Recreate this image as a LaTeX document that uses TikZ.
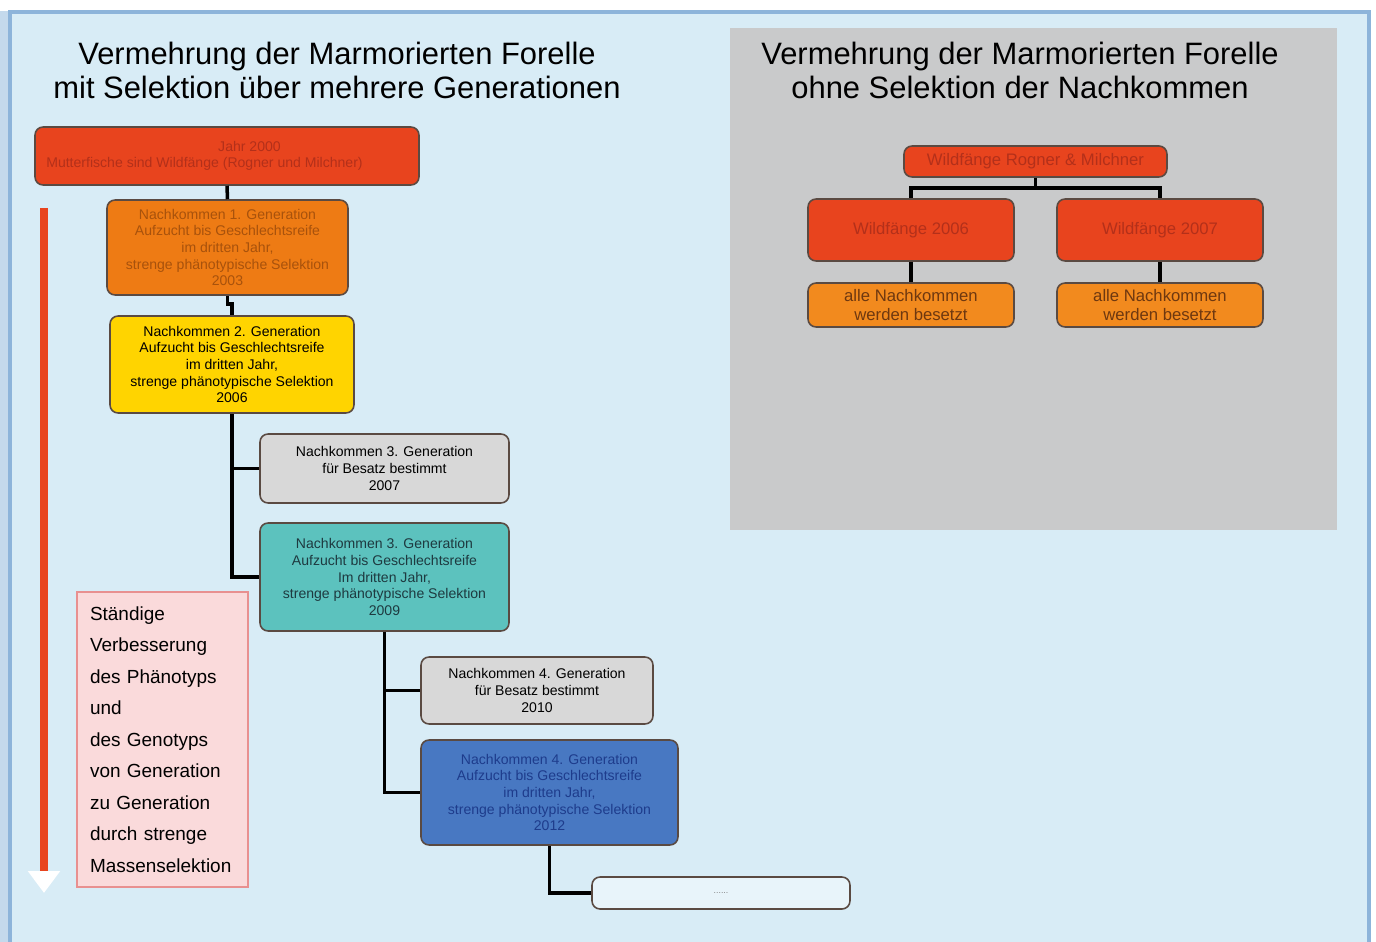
\documentclass[tikz,border=0pt]{standalone}
\usepackage{fontspec}
\setmainfont{Liberation Sans}
\usetikzlibrary{arrows.meta}
\definecolor{bgblue}{HTML}{D8ECF6}
\definecolor{frameblue}{HTML}{8DB4DA}
\definecolor{leftstrip}{HTML}{C4D9EC}
\definecolor{panelgray}{HTML}{C9CACB}
\definecolor{boxline}{HTML}{5A4A42}
\definecolor{redfill}{HTML}{E8441E}
\definecolor{redtext}{HTML}{B3301A}
\definecolor{orangefill}{HTML}{EE7B14}
\definecolor{orangetext}{HTML}{A8520C}
\definecolor{allefill}{HTML}{F28A1E}
\definecolor{alletext}{HTML}{6E3810}
\definecolor{yellowfill}{HTML}{FFD400}
\definecolor{grayfill}{HTML}{D8D8D8}
\definecolor{tealfill}{HTML}{5CC2BE}
\definecolor{tealtext}{HTML}{1E3A40}
\definecolor{bluefill}{HTML}{4878C2}
\definecolor{bluetext}{HTML}{1E3C8C}
\definecolor{pinkfill}{HTML}{FADADB}
\definecolor{pinkline}{HTML}{E89090}
\definecolor{arrowred}{HTML}{E8441E}
\tikzset{
  genbox/.style={draw=boxline, line width=0.9pt, rounded corners=0.16cm, align=center,
    inner sep=1pt, font=\fontsize{8}{9.5}\selectfont},
  wildbox/.style={genbox, font=\fontsize{9.5}{11}\selectfont},
  link/.style={line width=2pt, black},
  headline/.style={align=center, font=\fontsize{17.6}{19.3}\selectfont}
}
\begin{document}
\begin{tikzpicture}[x=0.02cm, y=-0.02cm]
\useasboundingbox (0,0) rectangle (1376,942);
\fill[white] (0,0) rectangle (1376,942);
\fill[leftstrip] (0,11) rectangle (9,942);
\fill[bgblue, draw=frameblue, line width=2.5pt] (10,12) rectangle (1369,950);
\fill[panelgray] (730,28) rectangle (1337,530);

\node[headline] (lefttitle) at (337,70) {Vermehrung der Marmorierten Forelle\\mit Selektion über mehrere Generationen};
\node[headline] (righttitle) at (1020,70) {Vermehrung der Marmorierten Forelle\\ohne Selektion der Nachkommen};

% Selektion ueber mehrere Generationen
\node[genbox, fill=redfill, text=redtext, minimum width=7.68cm, minimum height=1.16cm] (jahr) at (227,156)
  {\hspace*{0.9cm}Jahr 2000\\Mutterfische sind Wildfänge (Rogner und Milchner)\hspace*{0.9cm}};
\node[genbox, fill=orangefill, text=orangetext, minimum width=4.82cm, minimum height=1.9cm] (gen1) at (227.5,247.5)
  {Nachkommen 1. Generation\\Aufzucht bis Geschlechtsreife\\im dritten Jahr,\\strenge phänotypische Selektion\\2003};
\node[genbox, fill=yellowfill, text=black, minimum width=4.88cm, minimum height=1.94cm] (gen2) at (232,364.5)
  {Nachkommen 2. Generation\\Aufzucht bis Geschlechtsreife\\im dritten Jahr,\\strenge phänotypische Selektion\\2006};
\node[genbox, fill=grayfill, text=black, minimum width=4.98cm, minimum height=1.38cm] (gen3a) at (384.5,468.5)
  {Nachkommen 3. Generation\\für Besatz bestimmt\\2007};
\node[genbox, fill=tealfill, text=tealtext, minimum width=4.98cm, minimum height=2.16cm] (gen3b) at (384.5,577)
  {Nachkommen 3. Generation\\Aufzucht bis Geschlechtsreife\\Im dritten Jahr,\\strenge phänotypische Selektion\\2009};
\node[genbox, fill=grayfill, text=black, minimum width=4.64cm, minimum height=1.34cm] (gen4a) at (537,690.5)
  {Nachkommen 4. Generation\\für Besatz bestimmt\\2010};
\node[genbox, fill=bluefill, text=bluetext, minimum width=5.14cm, minimum height=2.1cm] (gen4b) at (549.5,792.5)
  {Nachkommen 4. Generation\\Aufzucht bis Geschlechtsreife\\im dritten Jahr,\\strenge phänotypische Selektion\\2012};
\node[genbox, fill=bgblue!60!white, text=gray, minimum width=5.16cm, minimum height=0.64cm,
  font=\fontsize{5}{6}\selectfont] (gen5) at (721,893) {......};

\draw[link] (jahr.south) -- (gen1.north);
\draw[link] (gen1.south) -- ++(0,8) -| (gen2.north);
\draw[link] (gen2.south) |- (gen3b.west);
\draw[link] (gen2.south |- gen3a.west) -- (gen3a.west);
\draw[link] (gen3b.south) |- (gen4b.west);
\draw[link] (gen3b.south |- gen4a.west) -- (gen4a.west);
\draw[link] (gen4b.south) |- (gen5.west);

\coordinate (arrtop) at (44,208);
\coordinate (arrbot) at (44,893);
\draw[arrowred, line width=4pt, -{Triangle[length=0.44cm, width=0.62cm, color=white]}] (arrtop) -- (arrbot);

\node[draw=pinkline, fill=pinkfill, line width=0.8pt, minimum width=3.42cm, minimum height=5.9cm,
  text width=2.9cm, align=left, inner xsep=0.26cm, font=\fontsize{10.8}{17.9}\selectfont] (besser) at (162.5,739.5)
  {Ständige\\Verbesserung\\des Phänotyps\\und\\des Genotyps\\von Generation\\zu Generation\\durch strenge\\Massenselektion};

% ohne Selektion
\node[wildbox, fill=redfill, text=redtext, minimum width=5.26cm, minimum height=0.62cm] (wild) at (1035.5,161.5)
  {Wildfänge Rogner \& Milchner};
\node[wildbox, fill=redfill, text=redtext, minimum width=4.12cm, minimum height=1.24cm] (w06) at (911,230) {Wildfänge 2006};
\node[wildbox, fill=redfill, text=redtext, minimum width=4.12cm, minimum height=1.24cm] (w07) at (1160,230) {Wildfänge 2007};
\node[wildbox, fill=allefill, text=alletext, minimum width=4.12cm, minimum height=0.88cm] (alle06) at (911,305)
  {alle Nachkommen\\werden besetzt};
\node[wildbox, fill=allefill, text=alletext, minimum width=4.12cm, minimum height=0.88cm] (alle07) at (1160,305)
  {alle Nachkommen\\werden besetzt};

\draw[link] (wild.south) -- ++(0,10) -| (w06.north);
\draw[link] (wild.south) -- ++(0,10) -| (w07.north);
\draw[link] (w06.south) -- (alle06.north);
\draw[link] (w07.south) -- (alle07.north);
\end{tikzpicture}
\end{document}
